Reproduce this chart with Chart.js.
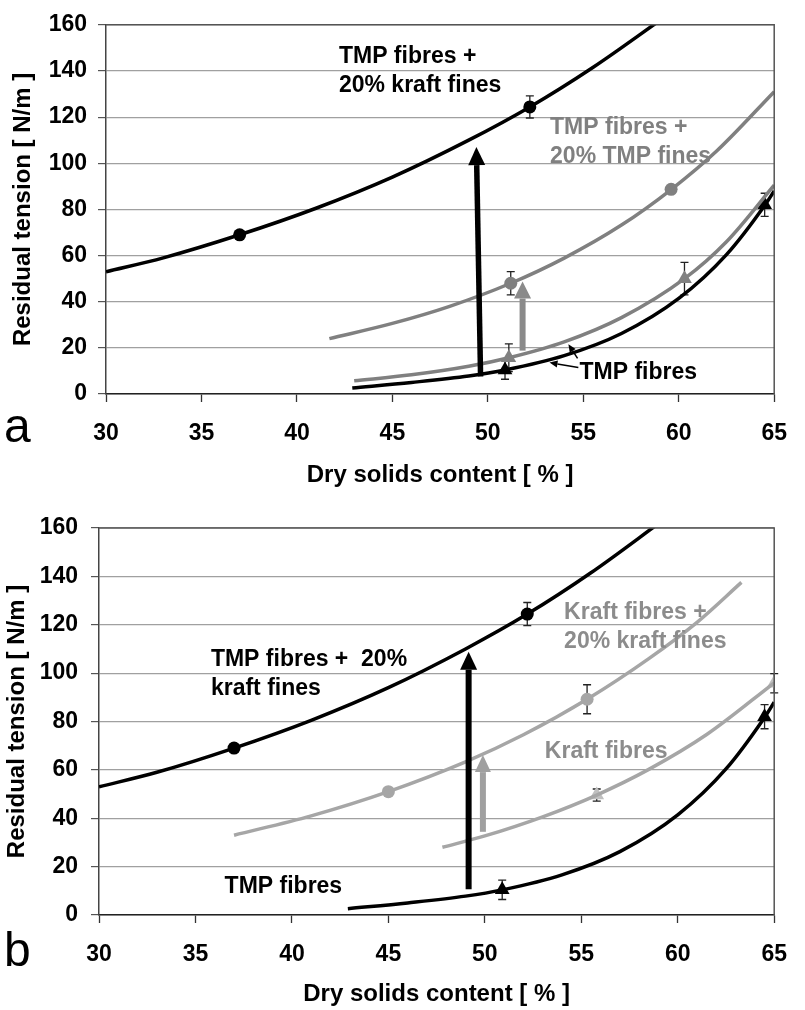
<!DOCTYPE html>
<html>
<head>
<meta charset="utf-8">
<script src="https://cdn.jsdelivr.net/npm/chart.js@4.4.1/dist/chart.umd.min.js"></script>
<style>
  body { margin: 0; background: #fff; width: 805px; height: 1010px; position: relative; overflow: hidden; }
  canvas { position: absolute; left: 0; }
  #chartA { top: 0; }
  #chartB { top: 500px; }
  .panel { position: absolute; font-family: "Liberation Sans", Arial, sans-serif; font-size: 48px; color: #000; line-height: 1; }
</style>
</head>
<body>
<canvas id="chartA" width="805" height="500"></canvas>
<canvas id="chartB" width="805" height="510"></canvas>
<div class="panel" style="left:4px; top:402px;">a</div>
<div class="panel" style="left:4px; top:926px;">b</div>
<script>
// fitted trend curves
const tmpKraftX = [30, 33, 37, 41, 45, 49, 52.2, 55.5, 59.2];
const tmpKraftY = [53, 59, 69, 80.5, 94, 110, 124.4, 141.5, 163];

const tmpTmpFinesX = [41.7, 45, 48, 51.2, 54, 57, 59.6, 62, 65];
const tmpTmpFinesY = [24, 30.6, 38, 48, 58.9, 73.2, 88.6, 105.4, 131];

const tmpGreyX = [43, 46, 49, 51.1, 54, 57, 60.3, 62.5, 65];
const tmpGreyY = [5.7, 8.3, 12, 15.7, 22.6, 33.1, 50, 66, 90.5];

const tmpFibresX = [42.9, 46, 49, 50.9, 54, 57, 60, 62.5, 64.5, 65];
const tmpFibresY = [2.6, 5, 7.8, 10.4, 16.6, 26.2, 41.4, 60.4, 81.7, 88];

const kraftFinesX = [37, 41, 45, 49, 52, 55.3, 58.5, 61, 63.3];
const kraftFinesY = [33, 41, 51, 63.3, 74.5, 89.2, 106, 121, 137.5];

const kraftFibresX = [47.8, 50, 53, 55.8, 58.5, 61.5, 65];
const kraftFibresY = [28, 32.7, 40.6, 49.6, 60.2, 74.6, 96];

// measured points (with error bar half-widths, 0 = none)
const ptTmpKraftX = [37, 52.2], ptTmpKraftY = [69, 124.4], ptTmpKraftErr = [0, 4.8];
const ptTmpFinesX = [51.2, 59.6], ptTmpFinesY = [48, 88.7], ptTmpFinesErr = [5, 0];
const ptTmpGreyX = [51.1, 60.3], ptTmpGreyY = [15.7, 50], ptTmpGreyErr = [6, 7];
const ptTmpFibresX = [50.9, 64.5], ptTmpFibresY = [10.4, 82], ptTmpFibresErr = [4, 5];
const ptKraftFinesX = [45, 55.3], ptKraftFinesY = [51, 89.2], ptKraftFinesErr = [0, 6];
const ptKraftFibresX = [55.8, 65], ptKraftFibresY = [49.6, 95.8], ptKraftFibresErr = [2.5, 4];

const xTicks = [30, 35, 40, 45, 50, 55, 60, 65];
const yTicks = [0, 20, 40, 60, 80, 100, 120, 140, 160];

const FONT = "'Liberation Sans', Arial, sans-serif";
const toPts = (xs, ys) => xs.map((x, i) => ({ x: x, y: ys[i] }));

function curve(xs, ys, color) {
  return { data: toPts(xs, ys), showLine: true, borderColor: color, borderWidth: 3.5,
           pointRadius: 0, cubicInterpolationMode: 'monotone' };
}
function marks(xs, ys, errs, style, color) {
  return { data: toPts(xs, ys), showLine: false, pointStyle: style,
           pointRadius: style === 'triangle' ? 8.5 : 6.5, backgroundColor: color,
           borderColor: color, borderWidth: 0, errors: errs };
}

// error bars, arrows, labels, frame
const overlay = {
  id: 'overlay',
  beforeDatasetsDraw(chart) {
    const { ctx, scales: { x, y } } = chart;
    ctx.save();
    ctx.strokeStyle = '#222';
    ctx.lineWidth = 1.3;
    chart.data.datasets.forEach(ds => {
      if (!ds.errors) return;
      ds.data.forEach((p, i) => {
        const e = ds.errors[i];
        if (!e) return;
        const px = x.getPixelForValue(p.x);
        const y1 = y.getPixelForValue(p.y - e), y2 = y.getPixelForValue(p.y + e);
        ctx.beginPath();
        ctx.moveTo(px, y1); ctx.lineTo(px, y2);
        ctx.moveTo(px - 4, y1); ctx.lineTo(px + 4, y1);
        ctx.moveTo(px - 4, y2); ctx.lineTo(px + 4, y2);
        ctx.stroke();
      });
    });
    ctx.restore();
  },
  afterDatasetsDraw(chart, args, opts) {
    const { ctx, chartArea: a, scales: { x, y } } = chart;
    ctx.save();
    (opts.arrows || []).forEach(ar => {
      const x1 = x.getPixelForValue(ar.from[0]), y1 = y.getPixelForValue(ar.from[1]);
      const x2 = x.getPixelForValue(ar.to[0]), y2 = y.getPixelForValue(ar.to[1]);
      const len = Math.hypot(x2 - x1, y2 - y1);
      const ux = (x2 - x1) / len, uy = (y2 - y1) / len;
      const bx = x2 - ux * ar.head, by = y2 - uy * ar.head;
      ctx.strokeStyle = ar.color; ctx.fillStyle = ar.color;
      ctx.lineWidth = ar.width;
      ctx.beginPath(); ctx.moveTo(x1, y1); ctx.lineTo(bx, by); ctx.stroke();
      ctx.beginPath();
      ctx.moveTo(x2, y2);
      ctx.lineTo(bx - uy * ar.headW / 2, by + ux * ar.headW / 2);
      ctx.lineTo(bx + uy * ar.headW / 2, by - ux * ar.headW / 2);
      ctx.closePath(); ctx.fill();
    });
    ctx.font = 'bold 23px ' + FONT;
    ctx.textBaseline = 'middle';
    ctx.textAlign = 'left';
    (opts.labels || []).forEach(lb => {
      ctx.fillStyle = lb.color;
      lb.lines.forEach((t, i) => {
        ctx.fillText(t, x.getPixelForValue(lb.at[0]), y.getPixelForValue(lb.at[1]) + i * 29);
      });
    });
    // frame top and right
    ctx.strokeStyle = '#555';
    ctx.lineWidth = 1.5;
    ctx.beginPath();
    ctx.moveTo(a.left, a.top); ctx.lineTo(a.right, a.top); ctx.lineTo(a.right, a.bottom);
    ctx.stroke();
    ctx.restore();
  }
};

function makeChart(id, datasets, geo, extras) {
  return new Chart(document.getElementById(id), {
    type: 'scatter',
    data: { datasets: datasets },
    plugins: [overlay],
    options: {
      responsive: false,
      animation: false,
      layout: { padding: { left: 0, top: geo.top, right: geo.right, bottom: 0 } },
      plugins: { legend: { display: false }, tooltip: { enabled: false }, overlay: extras },
      scales: {
        x: {
          type: 'linear', min: 30, max: 65,
          afterBuildTicks: s => { s.ticks = xTicks.map(v => ({ value: v })); },
          afterFit: s => { s.height = geo.xh; },
          grid: { drawOnChartArea: false, tickLength: 8, tickColor: '#333', tickWidth: 1.3 },
          border: { color: '#222', width: 1.5 },
          ticks: { color: '#000', padding: 18, font: { family: FONT, size: 23, weight: 'bold' } },
          title: { display: true, text: 'Dry solids content [ % ]', color: '#000',
                   padding: { top: 0, bottom: geo.xtp }, font: { family: FONT, size: 24, weight: 'bold' } }
        },
        y: {
          type: 'linear', min: 0, max: 160,
          afterBuildTicks: s => { s.ticks = yTicks.map(v => ({ value: v })); },
          afterFit: s => { s.width = geo.yw; },
          grid: { color: '#a0a0a0', lineWidth: 1.2, tickLength: 8, tickColor: '#555' },
          border: { color: '#444', width: 1.5 },
          ticks: { color: '#000', padding: geo.ytp, font: { family: FONT, size: 23, weight: 'bold' } },
          title: { display: true, text: 'Residual tension [ N/m ]', color: '#000',
                   padding: { top: geo.ylp, bottom: 0 }, font: { family: FONT, size: 24, weight: 'bold' } }
        }
      }
    }
  });
}

const GREY_A = '#808080';
const GREY_B = '#a6a6a6';

makeChart('chartA', [
  curve(tmpKraftX, tmpKraftY, '#000'),
  curve(tmpTmpFinesX, tmpTmpFinesY, GREY_A),
  curve(tmpGreyX, tmpGreyY, GREY_A),
  curve(tmpFibresX, tmpFibresY, '#000'),
  marks(ptTmpKraftX, ptTmpKraftY, ptTmpKraftErr, 'circle', '#000'),
  marks(ptTmpFinesX, ptTmpFinesY, ptTmpFinesErr, 'circle', GREY_A),
  marks(ptTmpGreyX, ptTmpGreyY, ptTmpGreyErr, 'triangle', GREY_A),
  marks(ptTmpFibresX, ptTmpFibresY, ptTmpFibresErr, 'triangle', '#000')
], { top: 14, right: 19, xh: 106, yw: 106, xtp: 10, ytp: 11, ylp: 9 }, {
  arrows: [
    { from: [49.62, 7.6], to: [49.4, 107], color: '#000', width: 5.5, head: 18, headW: 17 },
    { from: [51.82, 18.8], to: [51.82, 48.7], color: '#8a8a8a', width: 6, head: 17, headW: 17 },
    { from: [54.74, 11.5], to: [53.23, 13.6], color: '#000', width: 1.5, head: 8, headW: 7 },
    { from: [54.7, 15.4], to: [54.22, 21.6], color: '#000', width: 1.5, head: 8, headW: 7 }
  ],
  labels: [
    { at: [42.2, 146.1], lines: ['TMP fibres +', '20% kraft fines'], color: '#000' },
    { at: [53.26, 115.4], lines: ['TMP fibres +', '20% TMP fines'], color: GREY_A },
    { at: [54.8, 9.2], lines: ['TMP fibres'], color: '#000' }
  ]
});

makeChart('chartB', [
  curve(tmpKraftX, tmpKraftY, '#000'),
  curve(kraftFinesX, kraftFinesY, GREY_B),
  curve(kraftFibresX, kraftFibresY, GREY_B),
  curve(tmpFibresX, tmpFibresY, '#000'),
  marks(ptTmpKraftX, ptTmpKraftY, ptTmpKraftErr, 'circle', '#000'),
  marks(ptKraftFinesX, ptKraftFinesY, ptKraftFinesErr, 'circle', GREY_B),
  marks(ptKraftFibresX, ptKraftFibresY, ptKraftFibresErr, 'triangle', '#c0c0c0'),
  marks(ptTmpFibresX, ptTmpFibresY, ptTmpFibresErr, 'triangle', '#000')
], { top: 28, right: 18, xh: 95, yw: 99, xtp: 1, ytp: 13, ylp: 3 }, {
  arrows: [
    { from: [49.16, 10.6], to: [49.16, 108.8], color: '#000', width: 6, head: 18, headW: 17 },
    { from: [49.9, 34.4], to: [49.9, 66.1], color: '#a0a0a0', width: 6, head: 17, headW: 16 }
  ],
  labels: [
    { at: [35.8, 105.4], lines: ['TMP fibres +  20%', 'kraft fines'], color: '#000' },
    { at: [54.11, 124.8], lines: ['Kraft fibres +', '20% kraft fines'], color: '#8c8c8c' },
    { at: [53.11, 67.5], lines: ['Kraft fibres'], color: '#8c8c8c' },
    { at: [36.51, 11.7], lines: ['TMP fibres'], color: '#000' }
  ]
});
</script>
</body>
</html>
